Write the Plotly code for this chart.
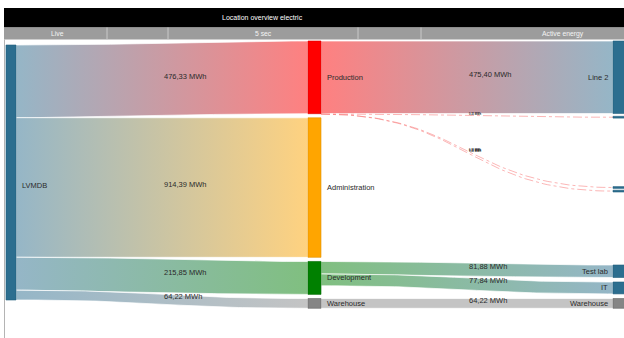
import numpy as np
import plotly.graph_objects as go

# ---------------- data ----------------
title_text = "Location overview electric"
header_labels = ["Live", "5 sec", "Active energy"]

node_labels = ["LVMDB", "Production", "Administration", "Development", "Warehouse",
               "Line 2", "", "", "", "Test lab", "IT", "Warehouse"]
link_source = [0, 0, 0, 0, 1, 1, 1, 1, 3, 3, 4]
link_target = [1, 2, 3, 4, 5, 6, 7, 8, 9, 10, 11]
link_value = [476.33, 914.39, 215.85, 64.22, 475.40, 0.31, 0.31, 0.31, 81.88, 77.84, 64.22]

# ---------------- layout / style ----------------
W, H = 624, 338
TOP_PX = 45.0                      # pixel row of the top of the source column
K = 255.0 / sum(link_value[:4])    # pixels per MWh
FONT = "Liberation Sans, Arial, sans-serif"

node_col = [0, 1, 1, 1, 1, 2, 2, 2, 2, 2, 2, 2]
col_x = {0: (6, 16), 1: (308, 321), 2: (613, 626)}
node_color = ["#2c6e8f", "#ff0000", "#ffa500", "#008000", "#858585",
              "#2c6e8f", "#2c6e8f", "#2c6e8f", "#2c6e8f", "#2c6e8f", "#2c6e8f", "#858585"]
node_line = ["#24607d", "#d80000", "#e09000", "#006a00", "#6a6a6a",
             "#24607d", "#24607d", "#24607d", "#24607d", "#24607d", "#24607d", "#6a6a6a"]
MID_TOP_PX = 41.0
MID_GAP_PX = 4.1
# right column node tops (pixel rows) – layout choice like sankey node.y
right_top_px = {5: 41.0, 6: 116.3, 7: 186.6, 8: 190.2, 9: 265.0, 10: 282.0}
MIN_NODE_PX = 1.8


def px2v(p):
    return (p - TOP_PX) / K


n = len(node_labels)
inflow = np.zeros(n)
outflow = np.zeros(n)
for s, t, v in zip(link_source, link_target, link_value):
    outflow[s] += v
    inflow[t] += v
node_val = np.maximum(inflow, outflow)
node_h = np.maximum(node_val, MIN_NODE_PX / K)

node_top = np.zeros(n)
node_top[0] = 0.0
y = px2v(MID_TOP_PX)
for i in [1, 2, 3, 4]:
    node_top[i] = y
    y += node_h[i] + MID_GAP_PX / K
for i, p in right_top_px.items():
    node_top[i] = px2v(p)
node_top[11] = node_top[4]

light = {
    "#2c6e8f": "#95b6c7", "#ff0000": "#ff8080", "#ffa500": "#ffd280",
    "#008000": "#80bf80", "#858585": "#c4c4c4",
}

fig = go.Figure()

src_off = node_top.copy()
tgt_off = node_top.copy()
t = np.linspace(0, 1, 80)
annotations = []

for s, tg, v in zip(link_source, link_target, link_value):
    x0 = col_x[node_col[s]][1]
    x1 = col_x[node_col[tg]][0]
    xm = (x0 + x1) / 2
    y0t = src_off[s]
    y0b = y0t + v
    src_off[s] = y0b
    y1t = tgt_off[tg]
    y1b = y1t + v
    tgt_off[tg] = y1b
    bx = (1 - t) ** 3 * x0 + 3 * (1 - t) ** 2 * t * xm + 3 * (1 - t) * t ** 2 * xm + t ** 3 * x1
    h = (1 - t) ** 2 * (1 + 2 * t)  # weight of the source end in the cubic
    c0, c1 = light[node_color[s]], light[node_color[tg]]
    if v * K < 1.0:
        # hair-thin flows: dashed line to the (min-size) target node
        y1c = node_top[tg] + node_h[tg] / 2
        yc = h * (y0t + v / 2 + 0.4 / K) + (1 - h) * y1c
        fig.add_trace(go.Scatter(x=bx, y=yc, mode="lines",
                                 line=dict(color="rgba(248,120,120,0.6)", width=0.9, dash="dashdot"),
                                 hoverinfo="skip"))
        ymid = ((y0t + v / 2) + y1c) / 2
        label = "<b>" + f"{v:.2f}".replace(".", ",") + " MWh</b>"
        annotations.append(dict(x=xm, y=ymid, xref="x", yref="y", text=label, showarrow=False,
                                xanchor="left", yanchor="middle", yshift=1,
                                font=dict(size=2.6, color="#111111", family=FONT)))
    else:
        yt = h * y0t + (1 - h) * y1t
        yb = h * y0b + (1 - h) * y1b
        px_ = np.concatenate([bx, bx[::-1], bx[:1]])
        py_ = np.concatenate([yt, yb[::-1], yt[:1]])
        fig.add_trace(go.Scatter(
            x=px_, y=py_, mode="lines", fill="toself",
            line=dict(color="white", width=0.7),
            fillgradient=dict(type="horizontal", colorscale=[[0, c0], [1, c1]],
                              start=x0, stop=x1),
            hoverinfo="skip"))
        ymid = (y0t + y0b + y1t + y1b) / 4
        label = f"{v:.2f}".replace(".", ",") + " MWh"
        annotations.append(dict(x=xm, y=ymid, xref="x", yref="y", text=label, showarrow=False,
                                xanchor="left", yanchor="middle", yshift=3,
                                font=dict(size=7.5, color="#2a2a2a", family=FONT)))

shapes = []
for i in range(n):
    xa, xb = col_x[node_col[i]]
    shapes.append(dict(type="rect", xref="x", yref="y", x0=xa, x1=xb,
                       y0=node_top[i], y1=node_top[i] + node_h[i],
                       fillcolor=node_color[i], line=dict(color=node_line[i], width=0.6),
                       layer="above"))
    if not node_labels[i]:
        continue
    yc = node_top[i] + node_h[i] / 2
    col = node_col[i]
    if col == 2:
        ax, anc = xa - 3.5, "right"
    else:
        ax, anc = xb + 4, "left"
    annotations.append(dict(x=ax, y=yc, xref="x", yref="y", text=node_labels[i], showarrow=False,
                            xanchor=anc, yanchor="middle", yshift=(-13 if i == 0 else 0),
                            font=dict(size=7.5, color="#2a2a2a", family=FONT)))

# header bars (pixel coordinates on y2)
shapes += [
    dict(type="rect", xref="x", yref="y2", x0=4, x1=626, y0=8, y1=27.5,
         fillcolor="#000000", line=dict(width=0), layer="above"),
    dict(type="rect", xref="x", yref="y2", x0=4, x1=626, y0=27.5, y1=39.5,
         fillcolor="#9c9c9c", line=dict(width=0), layer="above"),
    dict(type="line", xref="x", yref="y2", x0=4.5, x1=4.5, y0=39.5, y1=338,
         line=dict(color="#b4b4b4", width=1)),
]
for sx in [107, 168, 358, 421]:
    shapes.append(dict(type="line", xref="x", yref="y2", x0=sx, x1=sx, y0=27.5, y1=39.5,
                       line=dict(color="#c9c9c9", width=1), layer="above"))

annotations.append(dict(x=262, y=17.8, xref="x", yref="y2", text=title_text, showarrow=False,
                        xanchor="center", yanchor="middle",
                        font=dict(size=7, color="white", family=FONT)))
for hx, lab in zip([57, 263, 563], header_labels):
    annotations.append(dict(x=hx, y=33.5, xref="x", yref="y2", text=lab, showarrow=False,
                            xanchor="center", yanchor="middle",
                            font=dict(size=6.8, color="#f4f4f4", family=FONT)))

fig.add_trace(go.Scatter(x=[0], y=[0], yaxis="y2", mode="markers",
                         marker=dict(opacity=0), hoverinfo="skip"))

fig.update_layout(
    width=W, height=H, margin=dict(l=0, r=0, t=0, b=0),
    paper_bgcolor="white", plot_bgcolor="white", showlegend=False,
    xaxis=dict(range=[0, W], visible=False, fixedrange=True),
    yaxis=dict(range=[px2v(H), px2v(0)], visible=False, fixedrange=True),
    yaxis2=dict(range=[H, 0], visible=False, overlaying="y", fixedrange=True),
    shapes=shapes, annotations=annotations, hovermode=False,
)

fig.write_html("out.html")
